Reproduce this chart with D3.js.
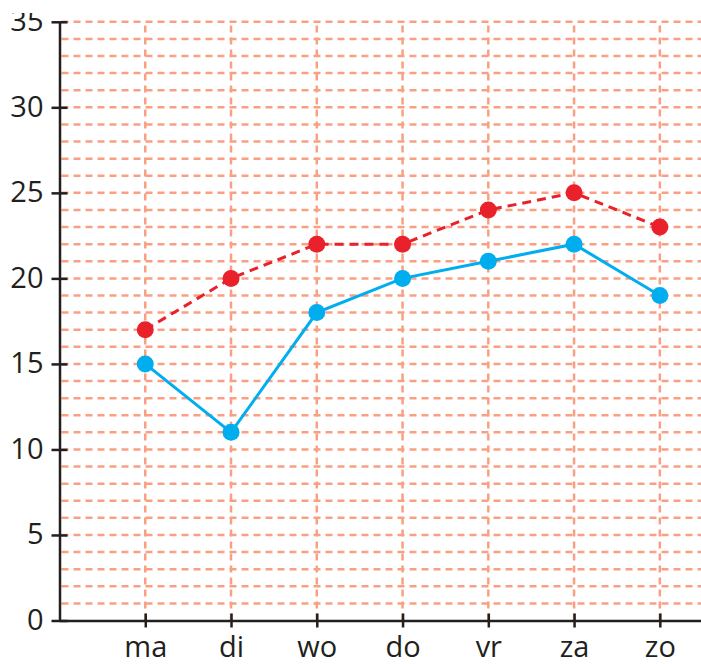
<!DOCTYPE html>
<html>
<head>
<meta charset="utf-8">
<script src="https://cdn.jsdelivr.net/npm/d3@7"></script>
<style>
  body { margin: 0; background: #fff; }
  svg { display: block; }
</style>
</head>
<body>
<svg id="chart"></svg>
<script>
// days of the week (Dutch)
var days = ["ma", "di", "wo", "do", "vr", "za", "zo"];
var redValues = [17, 20, 22, 22, 24, 25, 23];
var blueValues = [15, 11, 18, 20, 21, 22, 19];
var yTicks = [0, 5, 10, 15, 20, 25, 30, 35];

var width = 701, height = 664;
var gridColor = "#f9a082";

var svg = d3.select("#chart").attr("width", width).attr("height", height);

// x: one empty step before "ma", a half step after "zo"
var x = d3.scaleLinear().domain([-1, 6.48]).range([59.5, 701]);
var y = d3.scaleLinear().domain([0, 35]).range([620.5, 21.8]);

// horizontal grid, every unit
svg.append("g")
  .selectAll("line")
  .data(d3.range(1, 36))
  .join("line")
  .attr("x1", x(-1) + 2).attr("x2", width)
  .attr("y1", d => y(d)).attr("y2", d => y(d))
  .attr("stroke", gridColor)
  .attr("stroke-width", 2.5)
  .attr("stroke-dasharray", "7,5");

// vertical grid at each day
svg.append("g")
  .selectAll("line")
  .data(days)
  .join("line")
  .attr("x1", (d, i) => x(i)).attr("x2", (d, i) => x(i))
  .attr("y1", y(0)).attr("y2", y(35))
  .attr("stroke", gridColor)
  .attr("stroke-width", 2.5)
  .attr("stroke-dasharray", "7,5");

// axes
var xAxis = svg.append("g")
  .attr("transform", "translate(0," + y(0) + ")")
  .call(d3.axisBottom(x)
    .tickValues(d3.range(days.length))
    .tickFormat(i => days[i])
    .tickSizeOuter(0));

var yAxis = svg.append("g")
  .attr("transform", "translate(" + x(-1) + ",0)")
  .call(d3.axisLeft(y)
    .tickValues(yTicks)
    .tickSizeOuter(0));

[xAxis, yAxis].forEach(function(ax) {
  ax.select(".domain").attr("stroke", "#231f20").attr("stroke-width", 2.5);
  ax.selectAll(".tick line").attr("stroke", "#231f20").attr("stroke-width", 2.5);
  ax.selectAll("text")
    .attr("fill", "#231f20")
    .style("font-family", "'Open Sans', sans-serif")
    .style("font-size", "29px");
});

xAxis.selectAll(".tick line").attr("y1", -7).attr("y2", 7);
xAxis.selectAll(".tick text").attr("y", 16).attr("dy", "0.71em");
yAxis.selectAll(".tick line").attr("x1", -8).attr("x2", 8);
yAxis.selectAll(".tick text").attr("x", -16).attr("dy", "0.3em");

// the top label is cut off in the original
svg.append("rect")
  .attr("x", 0).attr("y", 0)
  .attr("width", 52).attr("height", 13)
  .attr("fill", "#fff");

var line = d3.line()
  .x((d, i) => x(i))
  .y(d => y(d));

// red dashed series
svg.append("path")
  .datum(redValues)
  .attr("d", line)
  .attr("fill", "none")
  .attr("stroke", "#e8212b")
  .attr("stroke-width", 3)
  .attr("stroke-dasharray", "9,6");

svg.append("g")
  .selectAll("circle")
  .data(redValues)
  .join("circle")
  .attr("cx", (d, i) => x(i))
  .attr("cy", d => y(d))
  .attr("r", 8.5)
  .attr("fill", "#e8212b");

// blue solid series
svg.append("path")
  .datum(blueValues)
  .attr("d", line)
  .attr("fill", "none")
  .attr("stroke", "#00aeef")
  .attr("stroke-width", 3);

svg.append("g")
  .selectAll("circle")
  .data(blueValues)
  .join("circle")
  .attr("cx", (d, i) => x(i))
  .attr("cy", d => y(d))
  .attr("r", 8.5)
  .attr("fill", "#00aeef");
</script>
</body>
</html>
